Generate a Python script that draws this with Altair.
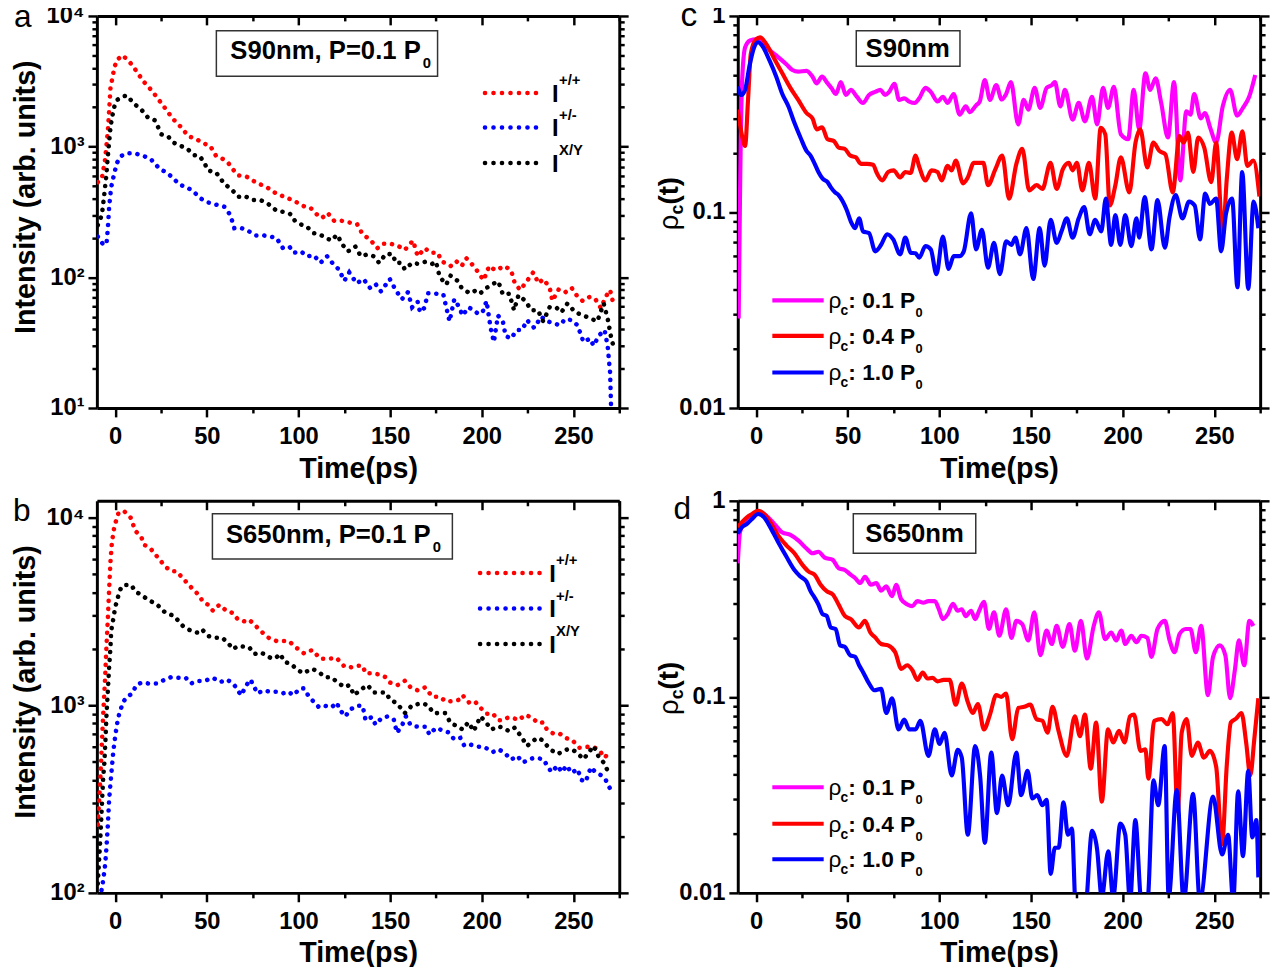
import json
import altair as alt
import pandas as pd

# ---------------- Panel a : S90nm, P = 0.1 P0 (time ps, intensity) ----------------
a_pp = [(-9.5,535),(-7.3,568),(-5.5,800),(-4.0,1320),(-3.3,1900),(-2.6,2800),(-0.4,4070),(1.1,4630),(4.0,5000),(7.7,4480),(10.6,3960),(15.4,3160),(19.8,2700),(23.8,2280),(26.4,2040),(31.5,1630),(35.9,1410),(40.0,1200),(44.0,1150),(47.8,1065),(51.8,1015),(55.0,850),(58.4,810),(61.7,750),(64.0,676),(67.0,603),(71.6,590),(77.0,530),(82.6,490),(88.0,436),(93.6,407),(99.0,375),(104.6,340),(106.8,337),(110.0,303),(112.8,284),(115.9,311),(119.4,271),(123.4,271),(127.0,264),(132.0,255),(135.0,213),(139.0,195),(143.0,167),(146.0,181),(150.0,181),(154.0,175),(158.0,162),(162.5,191),(165.0,145),(169.0,167),(172.0,154),(176.0,154),(178.0,133),(183.0,122),(186.0,133),(189.0,122),(191.6,140),(196.0,120),(201.0,95),(204.0,122),(207.5,113),(212.5,122),(216.0,113),(218.0,90),(221.0,80),(224.7,94),(228.0,109),(231.0,90),(233.5,97),(237.0,84),(238.5,66),(242.0,81),(245.6,77),(249.0,83),(252.0,72),(255.0,66),(259.0,71),(262.0,68),(265.0,58),(267.6,71),(270.0,80),(272.0,61)]
a_pm = [(-9.5,205),(-7.0,182),(-4.8,178),(-4.0,238),(-3.3,347),(-2.2,490),(-0.4,635),(1.1,758),(3.3,850),(6.6,890),(10.6,890),(15.4,850),(19.4,803),(24.2,676),(28.2,632),(32.0,568),(35.0,512),(39.0,490),(43.0,450),(46.0,407),(49.6,378),(52.9,367),(56.0,357),(59.5,347),(62.8,300),(65.0,238),(68.0,240),(71.6,231),(76.7,209),(81.0,209),(84.8,205),(88.0,200),(91.4,168),(95.0,172),(97.4,154),(101.3,158),(104.6,145),(108.4,147),(112.0,129),(115.6,145),(119.0,126),(122.0,115),(125.0,94),(127.7,109),(131.7,90),(135.5,97),(139.0,83),(142.0,89),(145.0,78),(149.8,97),(153.0,80),(156.4,68),(159.7,77),(162.0,59),(165.0,65),(166.3,54),(168.5,58),(170.7,75.5),(175.0,75),(179.0,74),(180.6,59),(182.4,46),(185.0,68),(187.7,59),(189.5,51),(192.7,59),(195.6,56),(198.0,52.5),(200.4,54),(202.6,66),(204.8,41),(206.6,32),(208.8,51),(211.5,46),(213.0,35.6),(216.0,34),(219.0,39.5),(222.0,39.5),(224.7,47),(228.6,41),(232.4,50),(235.7,46),(238.5,45),(242.5,43),(245.6,48),(249.0,47),(252.2,43),(255.5,32),(259.0,34),(261.0,30),(264.0,36),(267.0,39.5),(268.7,29.5),(270.0,18.6),(270.5,10.5)]
a_xy = [(-9.5,251),(-7.3,300),(-6.2,400),(-4.8,610),(-4.0,850),(-2.6,1390),(-1.8,1660),(-0.4,2040),(1.1,2280),(4.0,2420),(6.6,2460),(9.9,2150),(14.3,1915),(18.0,1660),(21.6,1590),(25.3,1240),(29.0,1190),(32.0,1070),(35.7,1015),(39.6,955),(43.0,862),(46.0,850),(48.5,758),(50.7,656),(55.0,635),(59.5,520),(64.0,463),(67.0,413),(70.5,420),(75.0,390),(79.3,390),(83.7,362),(88.0,323),(92.5,316),(96.0,303),(98.0,271),(101.0,255),(104.6,244),(108.0,218),(111.0,215),(114.5,202),(118.0,191),(121.0,212),(124.4,175),(127.0,158),(131.0,172),(134.0,145),(137.7,150),(141.0,145),(144.0,129),(147.6,151),(151.5,150),(153.0,129),(156.0,129),(158.0,115),(162.0,129),(165.0,127),(169.6,132),(173.0,127),(175.0,132),(177.0,101),(180.6,88),(183.0,103),(186.8,94),(189.0,83),(193.4,75.5),(196.5,79),(199.0,75),(202.6,83),(206.0,89),(209.0,93),(211.5,74),(215.0,75),(217.6,56),(220.0,73),(223.8,66),(227.0,56),(230.6,56),(233.5,46),(237.0,59),(240.5,59),(243.4,54),(246.7,63),(251.0,54),(255.5,51),(260.0,48),(263.0,46),(266.5,63),(268.7,48),(270.5,35),(272.0,29)]

# ---------------- Panel b : S650nm, P = 0.1 P0 ----------------
b_pp = [(-9.5,231),(-8.8,305),(-8.1,406),(-7.3,620),(-6.6,870),(-5.5,1410),(-4.8,2040),(-4.0,2930),(-3.3,4190),(-2.6,5800),(-1.8,7400),(-0.4,9030),(1.8,10600),(4.8,10840),(8.4,10000),(11.0,8510),(14.3,7850),(15.9,7160),(19.4,6820),(23.8,6040),(27.5,5460),(30.8,5180),(33.5,5180),(37.0,4740),(41.9,4200),(45.6,3870),(47.8,3570),(50.7,3430),(53.3,3190),(56.8,3430),(60.6,3190),(64.3,3100),(67.0,2860),(70.5,2800),(73.0,2860),(76.0,2690),(79.3,2490),(83.7,2290),(88.0,2200),(91.4,2200),(94.7,2200),(98.7,2030),(103.0,1890),(107.5,1970),(111.9,1770),(116.3,1770),(120.7,1790),(125.0,1610),(127.7,1585),(131.7,1625),(135.0,1625),(136.6,1480),(140.0,1480),(144.0,1460),(147.6,1410),(150.0,1320),(154.0,1280),(158.0,1350),(161.0,1250),(165.0,1200),(169.0,1245),(173.0,1110),(177.0,1110),(180.6,1045),(184.6,1055),(187.7,1070),(189.5,1130),(193.4,1025),(196.5,1040),(199.0,975),(202.6,900),(206.0,905),(208.8,832),(211.5,832),(214.0,857),(217.0,857),(220.0,832),(223.8,890),(227.3,857),(230.8,803),(233.5,810),(235.7,736),(239.0,707),(242.4,707),(245.6,670),(249.3,652),(253.3,594),(257.3,600),(261.0,600),(264.3,572),(267.0,525),(270.0,572)]
b_pm = [(-8.3,85),(-7.7,100),(-6.6,116),(-5.5,141),(-4.8,173),(-4.0,231),(-3.3,316),(-2.2,422),(-1.1,560),(0.0,684),(1.1,803),(2.2,901),(4.4,1045),(6.6,1110),(9.3,1157),(11.5,1280),(14.3,1320),(18.7,1305),(23.0,1305),(26.4,1360),(30.4,1410),(34.8,1400),(38.5,1400),(41.4,1305),(44.7,1345),(48.5,1345),(53.3,1400),(57.3,1330),(61.2,1370),(65.0,1280),(68.7,1130),(71.6,1280),(73.8,1370),(76.0,1245),(77.5,1157),(81.0,1200),(84.8,1180),(88.0,1180),(91.4,1157),(94.7,1180),(97.0,1130),(101.0,1230),(103.0,1230),(105.7,1110),(111.2,975),(114.5,993),(118.0,975),(121.0,1033),(122.2,955),(125.6,872),(128.0,946),(131.7,993),(135.0,993),(136.6,832),(140.0,865),(142.0,789),(145.4,856),(148.7,872),(152.0,838),(153.7,713),(156.4,778),(158.6,872),(161.0,789),(163.4,772),(166.3,768),(169.6,768),(171.4,698),(175.0,758),(178.4,736),(181.7,718),(185.0,657),(188.3,670),(190.5,607),(193.8,617),(197.8,602),(201.5,598),(206.0,563),(209.3,582),(212.6,555),(216.0,513),(219.3,537),(222.5,495),(225.8,516),(229.0,525),(233.5,516),(235.7,477),(238.0,440),(241.4,477),(243.6,440),(246.3,477),(249.0,435),(252.2,457),(254.4,400),(256.6,390),(259.5,467),(262.0,440),(265.4,422),(267.6,400),(270.0,359)]
b_xy = [(-9.5,112),(-8.8,148),(-8.1,196),(-7.3,288),(-6.6,406),(-5.9,495),(-5.3,657),(-4.8,870),(-4.0,1200),(-3.3,1600),(-2.6,2030),(-2.2,2490),(-1.1,2860),(0.0,3330),(1.1,3650),(2.6,4120),(4.4,4370),(6.6,4370),(8.8,4370),(11.0,4040),(14.3,3870),(18.0,3650),(23.0,3430),(27.5,3100),(32.0,3000),(37.0,2640),(41.4,2490),(44.7,2440),(47.3,2540),(50.7,2340),(54.0,2290),(58.4,2290),(61.7,2140),(64.3,1990),(67.0,2070),(70.5,2050),(73.0,2040),(76.0,1875),(79.3,1915),(82.6,1840),(85.5,1770),(88.0,1800),(89.9,1880),(92.5,1700),(96.0,1660),(98.7,1565),(102.4,1480),(107.5,1565),(111.2,1500),(114.5,1410),(118.0,1410),(121.0,1330),(125.0,1250),(127.7,1280),(130.4,1130),(133.3,1200),(137.7,1280),(141.0,1170),(144.5,1170),(147.6,1170),(150.0,1070),(153.7,1025),(158.0,908),(162.0,1000),(167.4,1025),(170.7,1000),(173.6,908),(176.2,908),(180.0,908),(183.0,803),(186.8,772),(189.5,742),(192.7,812),(195.6,728),(199.3,872),(202.2,812),(205.3,742),(208.8,772),(211.5,760),(214.8,728),(218.0,760),(222.0,670),(224.7,607),(228.0,645),(230.2,670),(233.0,652),(235.7,607),(238.5,572),(241.4,550),(243.6,563),(246.7,582),(249.3,582),(252.2,555),(255.5,516),(259.0,572),(261.0,607),(264.0,525),(266.5,495),(268.7,447)]

# ---------------- Panel c : S90nm, rho_c(t) ----------------
c_01 = [(-9.5,0.0286),(-8.8,0.117),(-7.7,0.45),(-6.0,0.69),(-3.3,0.75),(0.0,0.76),(3.3,0.73),(7.7,0.667),(12.0,0.617),(16.5,0.567),(19.8,0.53),(23.0,0.52),(27.5,0.525),(30.8,0.49),(33.0,0.453),(36.0,0.49),(38.5,0.46),(41.0,0.43),(43.6,0.40),(46.2,0.46),(49.0,0.395),(51.7,0.42),(55.0,0.387),(58.3,0.36),(61.6,0.395),(65.0,0.41),(67.8,0.42),(70.4,0.395),(72.6,0.41),(75.5,0.45),(78.0,0.373),(80.8,0.38),(83.6,0.366),(86.5,0.36),(89.0,0.38),(92.4,0.43),(95.3,0.41),(99.0,0.366),(101.9,0.387),(104.5,0.36),(107.8,0.40),(111.0,0.314),(114.4,0.346),(116.6,0.323),(120.0,0.35),(122.0,0.366),(124.8,0.471),(127.6,0.373),(131.0,0.444),(134.0,0.375),(136.4,0.40),(139.0,0.46),(143.0,0.28),(146.0,0.373),(148.5,0.333),(152.0,0.43),(155.0,0.34),(158.5,0.43),(161.3,0.444),(163.0,0.46),(166.0,0.346),(168.5,0.42),(172.7,0.296),(176.0,0.36),(179.4,0.29),(183.3,0.387),(186.0,0.28),(189.3,0.43),(192.0,0.34),(195.2,0.435),(199.0,0.249),(203.0,0.235),(206.0,0.42),(209.0,0.264),(212.4,0.51),(215.0,0.42),(218.0,0.48),(221.0,0.36),(224.7,0.24),(228.0,0.46),(231.4,0.145),(234.7,0.326),(237.0,0.314),(239.0,0.40),(242.6,0.30),(244.8,0.32),(248.0,0.264),(251.0,0.226),(254.6,0.346),(258.6,0.42),(262.4,0.31),(265.6,0.34),(269.0,0.387),(272.3,0.50)]
c_04 = [(-10.0,0.333),(-8.0,0.254),(-6.0,0.217),(-4.4,0.373),(-2.9,0.64),(0.0,0.76),(2.2,0.778),(5.5,0.72),(9.9,0.605),(14.3,0.51),(18.7,0.43),(23.0,0.373),(27.5,0.32),(30.8,0.30),(33.0,0.264),(36.0,0.27),(39.0,0.235),(42.5,0.23),(45.0,0.213),(48.4,0.21),(51.3,0.194),(54.4,0.19),(57.2,0.176),(60.5,0.176),(63.8,0.174),(66.0,0.157),(68.9,0.145),(72.0,0.16),(75.0,0.163),(78.6,0.15),(81.4,0.16),(84.3,0.158),(87.0,0.194),(89.0,0.17),(92.4,0.145),(95.7,0.163),(99.0,0.16),(101.2,0.145),(104.5,0.172),(106.7,0.163),(108.9,0.183),(112.9,0.14),(115.5,0.15),(118.8,0.178),(122.0,0.178),(124.0,0.178),(126.5,0.137),(130.5,0.165),(134.3,0.194),(138.0,0.117),(142.0,0.176),(145.2,0.21),(149.0,0.129),(153.0,0.137),(156.2,0.131),(160.6,0.178),(164.0,0.131),(167.3,0.165),(170.6,0.178),(172.7,0.163),(175.0,0.178),(178.0,0.129),(181.6,0.178),(185.0,0.117),(188.0,0.269),(190.5,0.249),(193.0,0.108),(196.0,0.137),(199.0,0.19),(203.6,0.126),(207.0,0.226),(209.6,0.264),(213.4,0.169),(216.7,0.226),(220.0,0.205),(223.3,0.197),(227.3,0.126),(231.0,0.244),(233.3,0.226),(235.6,0.254),(238.5,0.16),(241.2,0.24),(244.5,0.213),(248.3,0.142),(251.0,0.226),(254.6,0.0766),(256.8,0.148),(259.5,0.254),(262.4,0.186),(265.3,0.258),(268.0,0.172),(271.3,0.183),(274.6,0.12)]
c_10 = [(-10.0,0.436),(-8.0,0.395),(-6.0,0.42),(-3.7,0.55),(-1.1,0.69),(1.1,0.734),(3.3,0.706),(7.3,0.593),(11.0,0.49),(14.3,0.40),(17.6,0.346),(20.9,0.285),(24.2,0.24),(27.5,0.205),(29.7,0.194),(32.0,0.176),(34.0,0.16),(36.3,0.148),(39.0,0.142),(40.7,0.134),(43.0,0.126),(45.0,0.122),(47.3,0.113),(49.5,0.102),(51.7,0.0894),(54.0,0.0827),(56.2,0.0928),(58.3,0.0796),(61.6,0.078),(65.0,0.063),(68.2,0.068),(71.5,0.077),(74.8,0.0725),(78.6,0.0608),(81.4,0.074),(84.3,0.062),(87.0,0.0615),(89.0,0.0585),(92.4,0.067),(95.3,0.0645),(98.4,0.0482),(101.9,0.075),(105.0,0.0512),(107.8,0.0595),(111.0,0.0595),(113.3,0.063),(117.3,0.0985),(120.0,0.0645),(123.2,0.0812),(126.5,0.052),(129.8,0.0696),(133.0,0.0482),(136.4,0.0708),(139.3,0.068),(141.5,0.074),(144.0,0.0608),(147.5,0.0827),(151.2,0.0455),(154.7,0.0827),(157.4,0.0533),(160.7,0.0912),(164.0,0.0696),(166.6,0.0796),(169.5,0.0928),(172.7,0.074),(176.0,0.0928),(179.0,0.106),(182.0,0.077),(185.0,0.0912),(188.3,0.0796),(190.8,0.117),(193.7,0.068),(196.0,0.0964),(198.7,0.068),(201.4,0.0964),(204.7,0.067),(207.5,0.0928),(209.0,0.074),(212.0,0.119),(215.7,0.0645),(219.0,0.115),(223.0,0.0657),(225.6,0.0946),(228.9,0.122),(232.6,0.0928),(236.2,0.113),(239.3,0.108),(242.2,0.0725),(245.0,0.124),(247.6,0.11),(251.0,0.117),(253.7,0.063),(256.4,0.0985),(259.7,0.117),(262.6,0.0413),(265.2,0.16),(268.5,0.0405),(271.4,0.113),(274.0,0.0827)]

# ---------------- Panel d : S650nm, rho_c(t) ----------------
d_01 = [(-10.0,0.48),(-8.8,0.69),(-6.6,0.778),(-4.4,0.824),(-1.1,0.857),(2.2,0.874),(5.5,0.84),(9.9,0.763),(14.3,0.69),(18.7,0.671),(23.0,0.629),(27.5,0.571),(30.8,0.54),(34.0,0.55),(37.4,0.513),(41.8,0.5),(45.0,0.453),(48.4,0.444),(51.7,0.419),(54.0,0.404),(56.8,0.381),(59.4,0.41),(62.7,0.373),(65.6,0.381),(68.2,0.348),(71.0,0.366),(74.2,0.326),(76.4,0.373),(79.2,0.314),(82.5,0.296),(85.2,0.29),(88.0,0.308),(91.3,0.302),(94.0,0.308),(97.5,0.308),(99.7,0.28),(101.9,0.249),(104.5,0.264),(107.4,0.298),(110.0,0.275),(112.2,0.28),(114.4,0.258),(117.3,0.275),(119.5,0.249),(121.7,0.275),(124.3,0.305),(127.0,0.222),(129.8,0.27),(132.7,0.205),(136.4,0.28),(139.3,0.2),(142.0,0.244),(145.2,0.235),(148.5,0.194),(151.8,0.27),(155.1,0.163),(158.5,0.218),(161.3,0.186),(164.0,0.23),(167.3,0.18),(171.0,0.235),(173.9,0.172),(177.2,0.244),(180.5,0.157),(184.2,0.23),(187.0,0.27),(190.4,0.197),(193.7,0.213),(196.5,0.194),(199.2,0.218),(201.4,0.186),(204.7,0.205),(207.5,0.19),(210.2,0.205),(213.5,0.2),(215.7,0.16),(219.0,0.222),(223.0,0.244),(225.6,0.194),(228.3,0.169),(231.0,0.209),(234.4,0.222),(237.0,0.222),(239.9,0.169),(242.8,0.23),(246.5,0.102),(249.3,0.16),(253.0,0.183),(256.0,0.163),(258.6,0.0985),(261.2,0.137),(263.4,0.194),(266.3,0.145),(269.1,0.244),(271.3,0.23)]
d_04 = [(-10.0,0.734),(-7.7,0.778),(-5.0,0.824),(-2.2,0.857),(1.1,0.89),(4.4,0.857),(7.7,0.778),(12.0,0.667),(16.5,0.593),(20.9,0.54),(25.3,0.471),(28.6,0.436),(32.0,0.419),(35.2,0.373),(38.5,0.346),(41.8,0.333),(45.0,0.296),(48.4,0.259),(51.7,0.249),(56.1,0.226),(59.4,0.244),(62.3,0.213),(65.0,0.201),(68.2,0.186),(72.0,0.183),(75.9,0.169),(79.2,0.139),(82.5,0.145),(85.2,0.137),(88.0,0.122),(90.9,0.133),(93.5,0.124),(96.2,0.125),(99.0,0.12),(102.3,0.122),(105.6,0.122),(108.9,0.0912),(112.2,0.117),(115.5,0.094),(118.2,0.0827),(121.0,0.092),(124.3,0.0682),(127.6,0.0812),(131.0,0.102),(133.8,0.1),(136.4,0.104),(139.7,0.0608),(143.0,0.0877),(146.3,0.089),(149.6,0.0912),(153.0,0.077),(156.2,0.0755),(159.0,0.0656),(161.7,0.089),(165.0,0.067),(169.5,0.05),(173.9,0.0796),(176.7,0.063),(179.4,0.0812),(182.6,0.043),(185.5,0.074),(188.6,0.0292),(192.0,0.0682),(194.8,0.0585),(198.0,0.067),(201.0,0.0585),(204.0,0.0796),(206.2,0.0812),(209.7,0.053),(212.4,0.054),(214.0,0.0382),(217.2,0.0755),(221.2,0.077),(224.5,0.0725),(227.3,0.0827),(230.0,0.026),(232.2,0.0656),(234.9,0.077),(237.7,0.05),(241.0,0.0585),(244.3,0.049),(247.6,0.053),(251.0,0.044),(254.2,0.0177),(256.8,0.045),(259.0,0.074),(261.9,0.0775),(264.8,0.0827),(267.4,0.058),(269.6,0.0397),(271.8,0.0608),(274.0,0.0985)]
d_10 = [(-10.0,0.68),(-7.7,0.734),(-5.0,0.763),(-2.2,0.809),(1.1,0.857),(4.4,0.824),(7.7,0.734),(12.0,0.617),(16.5,0.52),(20.9,0.444),(24.2,0.411),(27.5,0.387),(29.7,0.346),(32.0,0.32),(34.0,0.296),(36.3,0.264),(38.5,0.259),(40.7,0.226),(43.4,0.222),(45.8,0.183),(48.4,0.18),(51.3,0.163),(54.0,0.16),(56.2,0.145),(58.3,0.134),(61.6,0.117),(64.5,0.108),(68.2,0.11),(71.0,0.0827),(74.2,0.0982),(77.7,0.0682),(80.8,0.0765),(83.6,0.0682),(87.0,0.0682),(89.6,0.0755),(94.0,0.05),(97.5,0.0682),(100.1,0.0575),(102.8,0.0656),(106.7,0.0397),(110.0,0.0537),(112.2,0.049),(115.5,0.0198),(119.5,0.0561),(122.2,0.0397),(124.8,0.018),(128.3,0.052),(131.4,0.0255),(134.2,0.0397),(137.5,0.028),(142.0,0.052),(144.6,0.0315),(148.1,0.042),(150.7,0.0303),(153.4,0.0315),(156.2,0.028),(158.5,0.0298),(160.7,0.0125),(163.0,0.017),(165.1,0.017),(167.7,0.029),(170.1,0.0198),(172.3,0.0213),(174.5,0.008),(179.4,0.008),(183.3,0.0207),(186.0,0.0168),(188.6,0.0095),(192.1,0.0163),(194.8,0.0095),(198.7,0.0226),(201.4,0.0198),(204.0,0.0091),(206.9,0.0235),(210.2,0.0091),(213.5,0.0091),(216.8,0.0375),(219.4,0.028),(222.9,0.0561),(225.1,0.0095),(229.5,0.0335),(233.3,0.0091),(238.4,0.032),(242.1,0.0091),(249.3,0.031),(254.2,0.0157),(257.5,0.0198),(260.3,0.0091),(263.0,0.033),(265.6,0.0154),(268.5,0.042),(270.7,0.0192),(272.9,0.0235),(274.0,0.012)]

# ---------------- labels / ticks ----------------
X_DOMAIN = [-10, 275]
X_TICKS = [0, 25, 50, 75, 100, 125, 150, 175, 200, 225, 250, 275]
INT_LABELS_A = {10: "10\u00b9", 100: "10\u00b2", 1000: "10\u00b3", 10000: "10\u2074"}
INT_LABELS_B = {100: "10\u00b2", 1000: "10\u00b3", 10000: "10\u2074"}
RHO_LABELS = {0.01: "0.01", 0.1: "0.1", 1: "1"}
I_LEGEND = ["+/+", "+/-", "X/Y"]
RHO_LEGEND = ["0.1", "0.4", "1.0"]

FONT = "Liberation Sans"
W, H = 529, 397
RED, BLUE, BLACK, MAG = "#ff0000", "#0000ff", "#000000", "#ff00ff"
ONE = pd.DataFrame({"k": [0]})


def frame(pairs):
    return pd.DataFrame({"t": [p[0] for p in pairs], "v": [p[1] for p in pairs]})


def log_ticks(lo, hi, top):
    vals = []
    for e in range(lo, hi + 1):
        for m in range(1, 10):
            v = round(m * 10.0 ** e, 10)
            if v <= top:
                vals.append(v)
    return vals


def txt(s, x, y, size, weight="bold", align="left", angle=0, color="black"):
    kw = dict(text=s, fontSize=size, fontWeight=weight, align=align,
              baseline="alphabetic", font=FONT, color=color)
    if angle:
        kw["angle"] = angle
    return alt.Chart(ONE).mark_text(**kw).encode(x=alt.value(x), y=alt.value(y))


def rule(x1, x2, y, color, dotted):
    if dotted:
        m = alt.Chart(ONE).mark_rule(color=color, strokeWidth=4.6, strokeDash=[0.1, 8.5], strokeCap="round")
    else:
        m = alt.Chart(ONE).mark_rule(color=color, strokeWidth=4.2)
    return m.encode(x=alt.value(x1), x2=alt.value(x2), y=alt.value(y))


def box(x1, x2, y1, y2):
    return alt.Chart(ONE).mark_rect(fill="white", stroke="#333333", strokeWidth=1.5).encode(
        x=alt.value(x1), x2=alt.value(x2), y=alt.value(y1), y2=alt.value(y2))


def panel(series, ydom, yticks, labels, ytitle, dotted, extra):
    xs = alt.Scale(domain=X_DOMAIN, nice=False, zero=False)
    ys = alt.Scale(type="log", domain=ydom, nice=False)
    dec = list(labels.keys())
    ytest = "indexof(%s, datum.value) >= 0" % json.dumps(dec)
    lab = "''"
    for k, s in reversed(list(labels.items())):
        lab = "datum.value == %s ? '%s' : (%s)" % (json.dumps(k), s, lab)
    xsize = {"condition": {"test": "datum.value % 50 === 0", "value": 9}, "value": 5}
    ysize = {"condition": {"test": ytest, "value": 9}, "value": 5}
    xlab = "datum.value % 50 === 0 ? datum.label : ''"

    layers = []
    for i, (pairs, color) in enumerate(series):
        if dotted:
            mk = alt.Chart(frame(pairs)).mark_line(color=color, strokeWidth=4.6, strokeDash=[0.1, 8.0],
                                                   strokeCap="round", clip=True)
        else:
            mk = alt.Chart(frame(pairs)).mark_line(color=color, strokeWidth=4.2, interpolate="monotone",
                                                   clip=True)
        if i == 0:
            xa = alt.Axis(values=X_TICKS, labelExpr=xlab, tickSize=xsize, title="Time(ps)",
                          labelPadding=8, titlePadding=6)
            if ytitle:
                ya = alt.Axis(values=yticks, labelExpr=lab, tickSize=ysize, title=ytitle,
                              labelPadding=4, titlePadding=6, titleY=183)
            else:
                ya = alt.Axis(values=yticks, labelExpr=lab, tickSize=ysize, title=None, labelPadding=4)
            mk = mk.encode(x=alt.X("t:Q", scale=xs, axis=xa), y=alt.Y("v:Q", scale=ys, axis=ya))
        else:
            mk = mk.encode(x=alt.X("t:Q", scale=xs, axis=None), y=alt.Y("v:Q", scale=ys, axis=None))
        layers.append(mk)

    # mirror axes (top with inward ticks, right with outward ticks)
    mirror = alt.Chart(frame(series[0][0])).mark_line(opacity=0, clip=True).encode(
        x=alt.X("t:Q", scale=xs, axis=alt.Axis(orient="bottom", offset=-H, values=X_TICKS, labels=False,
                                               tickSize=xsize, title=None)),
        y=alt.Y("v:Q", scale=ys, axis=alt.Axis(orient="right", values=yticks, labels=False,
                                               tickSize=ysize, title=None)))
    layers.append(mirror)
    layers.extend(extra)
    return alt.layer(*layers).resolve_axis(x="independent", y="independent").properties(width=W, height=H)


def i_legend(x1, x2, ys):
    out = []
    for (lab, col), y in zip(zip(I_LEGEND, [RED, BLUE, BLACK]), ys):
        out.append(rule(x1, x2, y, col, True))
        out.append(txt("I", x2 + 8, y + 9, 24))
        out.append(txt(lab, x2 + 15, y - 8, 15))
    return out


def rho_legend(ys):
    out = []
    for (lab, col), y in zip(zip(RHO_LEGEND, [MAG, RED, BLUE]), ys):
        out.append(rule(35, 87, y, col, False))
        out.append(txt("\u03c1", 92, y + 8, 23, weight="normal"))
        out.append(txt("c", 104, y + 15, 14))
        out.append(txt(": " + lab + " P", 112, y + 8, 23))
        out.append(txt("0", 180, y + 17, 13))
    return out


def rho_title():
    return [txt("\u03c1", -61, 217, 28, weight="normal", angle=270),
            txt("c", -55, 201, 18, angle=270),
            txt("(t)", -61, 191, 28, angle=270)]


pa = panel([(a_pp, RED), (a_pm, BLUE), (a_xy, BLACK)], [10, 10000], log_ticks(1, 4, 10000), INT_LABELS_A,
           "Intensity (arb. units)", True,
           [box(121, 345, 15, 61), txt("S90nm, P=0.1 P", 328, 44, 26, align="right"), txt("0", 330, 53, 15)]
           + i_legend(393, 453, [78, 113, 149]) + [txt("a", -84, 11, 32, weight="normal")])

pb = panel([(b_pp, RED), (b_pm, BLUE), (b_xy, BLACK)], [100, 12290], log_ticks(2, 4, 12290), INT_LABELS_B,
           "Intensity (arb. units)", True,
           [box(117, 360, 13, 59), txt("S650nm, P=0.1 P", 338, 43, 26, align="right"), txt("0", 340, 52, 15)]
           + i_legend(388, 450, [73, 109, 145]) + [txt("b", -85, 20, 32, weight="normal")])

pc = panel([(c_01, MAG), (c_04, RED), (c_10, BLUE)], [0.01, 1], log_ticks(-2, 0, 1), RHO_LABELS,
           None, False,
           [box(120, 225, 15, 51), txt("S90nm", 172, 42, 26, align="center")]
           + rho_legend([288, 324, 361]) + rho_title() + [txt("c", -58, 10, 34, weight="normal")])

pd_ = panel([(d_01, MAG), (d_04, RED), (d_10, BLUE)], [0.01, 1], log_ticks(-2, 0, 1), RHO_LABELS,
            None, False,
            [box(117, 241, 13, 53), txt("S650nm", 179, 42, 26, align="center")]
            + rho_legend([290, 327, 363]) + rho_title() + [txt("d", -65, 18, 32, weight="normal")])

chart = alt.vconcat(
    alt.hconcat(pa, pc, spacing=25),
    alt.hconcat(pb, pd_, spacing=25),
    spacing=4,
).properties(
    padding={"left": 2, "top": -16, "right": 2, "bottom": -8},
).configure_view(
    stroke="transparent"
).configure_axis(
    domainColor="black", domainWidth=3, tickColor="black", tickWidth=2.5, grid=False,
    labelFont=FONT, labelFontSize=24, labelFontWeight="bold", labelColor="black",
    titleFont=FONT, titleFontSize=29, titleFontWeight="bold", titleColor="black",
)

chart.save("out.html", embed_options={"renderer": "svg", "actions": False})
